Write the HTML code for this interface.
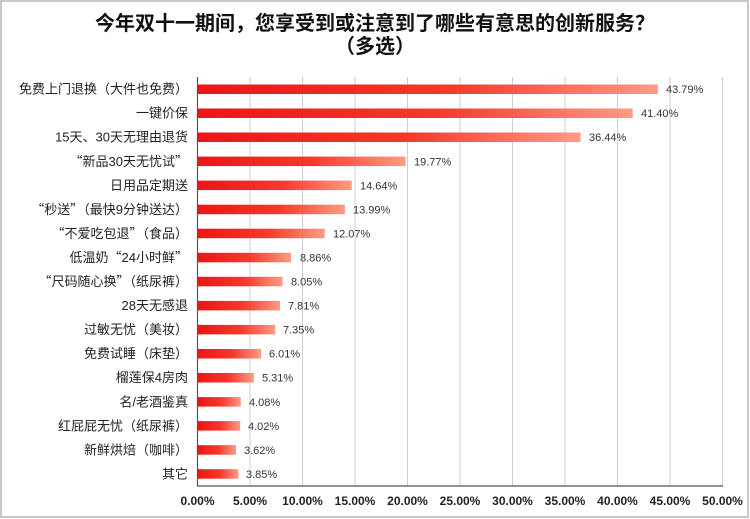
<!DOCTYPE html>
<html><head><meta charset="utf-8"><style>
html,body{margin:0;padding:0;background:#fff;}
svg{display:block;}
.q{font-family:"Noto Sans CJK SC",sans-serif;}
</style></head><body>
<svg width="750" height="519" viewBox="0 0 750 519" xmlns="http://www.w3.org/2000/svg">
<defs>
<linearGradient id="g" x1="0" y1="0" x2="1" y2="0">
<stop offset="0" stop-color="#ec1515"/>
<stop offset="0.55" stop-color="#f5392b"/>
<stop offset="1" stop-color="#ff9a86"/>
</linearGradient>
</defs>
<rect x="1" y="1" width="747" height="516" fill="#fff" stroke="#c8c8c8" stroke-width="2"/>
<g font-family="'Liberation Sans','Noto Sans CJK SC',sans-serif" font-weight="bold" fill="#111" text-anchor="middle" font-size="20">
<text x="375" y="30">今年双十一期间，您享受到或注意到了哪些有意思的创新服务？</text>
<text x="375" y="53">（多选）</text>
</g>
<g stroke="#cfcfcf" stroke-width="1">
<line x1="250" y1="77" x2="250" y2="486"/>
<line x1="302.5" y1="77" x2="302.5" y2="486"/>
<line x1="355" y1="77" x2="355" y2="486"/>
<line x1="407.5" y1="77" x2="407.5" y2="486"/>
<line x1="460" y1="77" x2="460" y2="486"/>
<line x1="512.5" y1="77" x2="512.5" y2="486"/>
<line x1="565" y1="77" x2="565" y2="486"/>
<line x1="617.5" y1="77" x2="617.5" y2="486"/>
<line x1="670" y1="77" x2="670" y2="486"/>
<line x1="722.5" y1="77" x2="722.5" y2="486"/>
</g>
<g stroke="#555" stroke-width="1.2">
<line x1="197.5" y1="77" x2="197.5" y2="486"/>
<line x1="197" y1="486" x2="723" y2="486"/>
</g>
<g fill="url(#g)">
<rect x="198" y="84.5" width="459.8" height="9.5"/>
<rect x="198" y="108.5" width="434.7" height="9.5"/>
<rect x="198" y="132.5" width="382.6" height="9.5"/>
<rect x="198" y="156.6" width="207.6" height="9.5"/>
<rect x="198" y="180.6" width="153.7" height="9.5"/>
<rect x="198" y="204.7" width="146.9" height="9.5"/>
<rect x="198" y="228.7" width="126.7" height="9.5"/>
<rect x="198" y="252.8" width="93.0" height="9.5"/>
<rect x="198" y="276.8" width="84.5" height="9.5"/>
<rect x="198" y="300.9" width="82.0" height="9.5"/>
<rect x="198" y="324.9" width="77.2" height="9.5"/>
<rect x="198" y="349.0" width="63.1" height="9.5"/>
<rect x="198" y="373.0" width="55.8" height="9.5"/>
<rect x="198" y="397.1" width="42.8" height="9.5"/>
<rect x="198" y="421.1" width="42.2" height="9.5"/>
<rect x="198" y="445.2" width="38.0" height="9.5"/>
<rect x="198" y="469.2" width="40.4" height="9.5"/>
</g>
<g font-family="'Liberation Sans','Noto Sans CJK SC',sans-serif" font-size="13" fill="#222" text-anchor="end">
<text x="188" y="93.7">免费上门退换（大件也免费）</text>
<text x="188" y="117.7">一键价保</text>
<text x="188" y="141.7">15天、30天无理由退货</text>
<text x="188" y="165.8"><tspan class="q">“</tspan>新品30天无忧试<tspan class="q">”</tspan></text>
<text x="188" y="189.8">日用品定期送</text>
<text x="188" y="213.9"><tspan class="q">“</tspan>秒送<tspan class="q">”</tspan>（最快9分钟送达）</text>
<text x="188" y="237.9"><tspan class="q">“</tspan>不爱吃包退<tspan class="q">”</tspan>（食品）</text>
<text x="188" y="262.0">低温奶<tspan class="q">“</tspan>24小时鲜<tspan class="q">”</tspan></text>
<text x="188" y="286.0"><tspan class="q">“</tspan>尺码随心换<tspan class="q">”</tspan>（纸尿裤）</text>
<text x="188" y="310.1">28天无感退</text>
<text x="188" y="334.1">过敏无忧（美妆）</text>
<text x="188" y="358.2">免费试睡（床垫）</text>
<text x="188" y="382.2">榴莲保4房肉</text>
<text x="188" y="406.3">名/老酒鉴真</text>
<text x="188" y="430.3">红屁屁无忧（纸尿裤）</text>
<text x="188" y="454.4">新鲜烘焙（咖啡）</text>
<text x="188" y="478.4">其它</text>
</g>
<g font-family="'Liberation Sans',sans-serif" font-size="11" fill="#333">
<text x="666" y="93.2">43.79%</text>
<text x="641" y="117.2">41.40%</text>
<text x="589" y="141.2">36.44%</text>
<text x="414" y="165.3">19.77%</text>
<text x="360" y="189.3">14.64%</text>
<text x="353" y="213.4">13.99%</text>
<text x="333" y="237.4">12.07%</text>
<text x="300" y="261.5">8.86%</text>
<text x="291" y="285.5">8.05%</text>
<text x="288" y="309.6">7.81%</text>
<text x="283" y="333.6">7.35%</text>
<text x="269" y="357.7">6.01%</text>
<text x="262" y="381.7">5.31%</text>
<text x="249" y="405.8">4.08%</text>
<text x="248" y="429.8">4.02%</text>
<text x="244" y="453.9">3.62%</text>
<text x="246" y="477.9">3.85%</text>
</g>
<g font-family="'Liberation Sans',sans-serif" font-size="12" font-weight="bold" fill="#222" text-anchor="middle">
<text x="197.5" y="505">0.00%</text>
<text x="250" y="505">5.00%</text>
<text x="302.5" y="505">10.00%</text>
<text x="355" y="505">15.00%</text>
<text x="407.5" y="505">20.00%</text>
<text x="460" y="505">25.00%</text>
<text x="512.5" y="505">30.00%</text>
<text x="565" y="505">35.00%</text>
<text x="617.5" y="505">40.00%</text>
<text x="670" y="505">45.00%</text>
<text x="722.5" y="505">50.00%</text>
</g>
</svg>
</body></html>
